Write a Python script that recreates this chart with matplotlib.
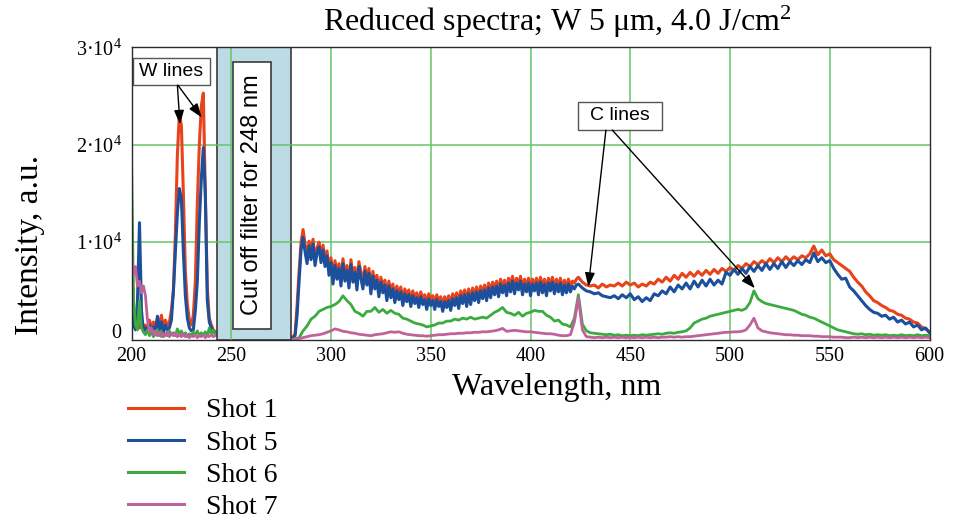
import numpy as np
import matplotlib
matplotlib.use('Agg')
import matplotlib.pyplot as plt
from matplotlib.patches import Rectangle
from matplotlib.lines import Line2D

plt.rcParams['font.family'] = ['Liberation Serif', 'DejaVu Serif']
plt.rcParams['mathtext.fontset'] = 'custom'
plt.rcParams['mathtext.rm'] = 'Liberation Serif'
plt.rcParams['mathtext.it'] = 'Liberation Serif:italic'
plt.rcParams['mathtext.bf'] = 'Liberation Serif:bold'

# ---------------- data ----------------
labels = ['Shot 1', 'Shot 5', 'Shot 6', 'Shot 7']
colors = ['#e8431a', '#1c4f9c', '#3bab3f', '#c0629a']

# W-line region (1 nm step, 200..242 nm)
wl_w = np.arange(200, 243, 1)
shot1_w = [12000, 2500, 1500, 2000, 1200, 1800, 1000, 1500, 900, 2000,
           1200, 1800, 1000, 2200, 1500, 2500, 1200, 2000, 1500, 1800,
           3000, 5000, 11000, 19000, 23200, 22000, 15000, 7000, 3600, 2000,
           1500, 2500, 6000, 14000, 20000, 24000, 25300, 15000, 5300, 2200,
           1500, 1000, 800]
shot5_w = [7400, 1500, 1000, 4000, 12000, 3000, 800, 1200, 800, 1500,
           1000, 1300, 800, 2400, 1000, 1800, 700, 1500, 1000, 1200,
           2000, 5000, 9000, 13000, 15500, 14500, 9000, 4500, 2200, 1200,
           900, 1000, 3000, 6000, 12000, 16500, 19700, 15000, 4000, 1800,
           1200, 900, 600]
shot6_w = [18700, 4000, 1500, 1000, 4000, 1200, 800, 500, 1000, 400,
           800, 300, 600, 1000, 400, 800, 300, 600, 400, 900,
           500, 700, 400, 1100, 600, 900, 400, 700, 300, 600,
           400, 800, 500, 900, 400, 700, 500, 800, 400, 1200,
           600, 1000, 500]
shot7_w = [9100, 6700, 7500, 5500, 6000, 4800, 5500, 4500, 2000, 800,
           1200, 500, 900, 400, 700, 300, 600, 400, 800, 300,
           600, 400, 700, 300, 500, 300, 600, 300, 500, 200,
           400, 300, 500, 200, 400, 300, 500, 200, 400, 300,
           500, 300, 400]

# Shots 1 and 5: noisy part at 1 nm (280..423), rest at 2 nm (424..600)
wl_n = np.arange(280, 424, 1)
wl_s = np.arange(424, 601, 2)
shot1_n = [100, 300, 600, 3500, 7000, 10000, 11300, 9800, 8500, 10100,
           8800, 10300, 8200, 9400, 10000, 8500, 9700, 8100, 9100, 7200,
           8400, 6300, 8100, 6800, 7800, 6100, 8300, 6600, 7600, 5900,
           8200, 6500, 7400, 5700, 8000, 6900, 5800, 7500, 6200, 7300,
           5300, 7000, 5800, 6600, 5000, 6400, 5400, 6100, 4600, 6000,
           4900, 5700, 4400, 5500, 4700, 5400, 4100, 5200, 4500, 5100,
           4000, 5000, 4300, 4800, 3900, 4900, 4200, 4600, 3700, 4700,
           4100, 4500, 3700, 4600, 4000, 4400, 3500, 4400, 3900, 4500,
           3600, 4700, 4100, 4800, 3800, 5000, 4300, 5100, 4000, 5200,
           4200, 5300, 4600, 5400, 4400, 5500, 4800, 5600, 4600, 5800,
           4900, 5900, 5200, 6000, 5000, 6200, 5400, 6100, 5100, 6300,
           5500, 6500, 5300, 6300, 5700, 6500, 5200, 6200, 5500, 6300,
           5100, 6200, 5600, 6300, 5200, 6400, 5400, 6200, 5100, 6300,
           5600, 6400, 5300, 6200, 5500, 6300, 5200, 6100, 5400, 6200,
           5500, 6000, 5800, 6200]
shot1_s = [6400, 5900, 5600, 5500, 5600, 5300, 5700, 5400,
           5600, 5500, 5800, 5500, 5900, 5600, 5800, 5400, 5700, 5500,
           5900, 5700, 6200, 5900, 6400, 6000, 6600, 6200, 6800, 6400,
           6900, 6500, 7000, 6600, 7100, 6700, 7200, 6800, 7300, 7000,
           7400, 7100, 7600, 7300, 7800, 7500, 8000, 7700, 8100, 7800,
           8300, 7900, 8400, 8000, 8500, 8100, 8500, 8200, 8600, 8400,
           8800, 9600, 8700, 9200, 8600, 8800, 8200, 7900, 7600, 7300,
           7000, 6400, 5900, 5500, 4900, 4500, 4000, 3800, 3500, 3300,
           3000, 2900, 2600, 2500, 2200, 2100, 1800, 1700, 1300, 1100,
           800]
shot5_n = [100, 200, 400, 2500, 6000, 9200, 10500, 9000, 7800, 9600,
           8200, 9800, 7600, 8900, 9500, 7900, 9200, 7500, 8600, 6600,
           7900, 5700, 7600, 6200, 7300, 5500, 7800, 6000, 7100, 5300,
           7700, 5900, 6900, 5100, 7500, 6300, 5200, 7000, 5600, 6800,
           4700, 6500, 5200, 6100, 4400, 5900, 4800, 5600, 4000, 5500,
           4300, 5200, 3800, 5000, 4100, 4900, 3500, 4700, 3900, 4600,
           3400, 4500, 3700, 4300, 3300, 4400, 3600, 4100, 3100, 4200,
           3500, 4000, 3100, 4100, 3400, 3900, 2900, 3900, 3300, 4000,
           3000, 4200, 3500, 4300, 3200, 4500, 3700, 4600, 3400, 4700,
           3600, 4800, 4000, 4900, 3800, 5000, 4200, 5100, 4000, 5300,
           4300, 5400, 4600, 5500, 4400, 5700, 4800, 5600, 4500, 5800,
           4900, 6000, 4700, 5800, 5100, 6000, 4600, 5700, 4900, 5800,
           4500, 5700, 5000, 5800, 4600, 5900, 4800, 5700, 4500, 5800,
           5000, 5900, 4700, 5700, 4900, 5800, 4600, 5600, 4800, 5700,
           4900, 5500, 5200, 5600]
shot5_s = [5700, 5300, 5000, 4900, 4700, 4800, 4500, 4400,
           4300, 4500, 4200, 4600, 4300, 4700, 4100, 4400, 3900, 4300,
           4000, 4700, 4500, 5000, 4700, 5400, 4900, 5600, 5200, 5800,
           5200, 6000, 5400, 6100, 5500, 6200, 5600, 6100, 5700, 6900,
           6600, 7200, 6700, 7300, 6800, 7500, 7000, 7600, 7100, 7800,
           7200, 7800, 7300, 8000, 7400, 8000, 7600, 8100, 7700, 8200,
           7900, 8900, 8000, 8400, 7900, 8100, 7300, 6700, 6200, 6300,
           5400, 5000, 4500, 4000, 3500, 3100, 2800, 2700, 2400, 2500,
           2100, 2300, 1800, 2000, 1600, 1800, 1300, 1500, 1000, 1200,
           700]

# Shots 6 and 7: 2 nm step, 280..600 nm
wl_c = np.arange(280, 601, 2)
shot6_c = [0, 50, 200, 900, 1400, 2100, 2400, 2900, 3100, 3300,
           3400, 3600, 3900, 4500, 4000, 3600, 2900, 2700, 2400, 2900,
           2900, 3300, 2800, 3100, 2700, 3000, 2700, 2600, 2200, 2100,
           1900, 1700, 1600, 1500, 1300, 1400, 1500, 1700, 1700, 1900,
           1900, 2100, 2000, 2200, 2100, 2300, 2100, 2200, 2300, 2200,
           2500, 2800, 3000, 3300, 2800, 2700, 2500, 2800, 2400, 2700,
           2800, 3000, 2900, 2900, 2500, 2300, 1900, 2000, 1600, 1500,
           1300, 2200, 4600, 1600, 900, 700, 650, 600, 550, 500,
           550, 450, 500, 400, 450, 400, 450, 400, 500, 450,
           500, 550, 600, 550, 650, 700, 650, 750, 800, 900,
           1200, 1700, 1900, 2100, 2200, 2400, 2500, 2600, 2700, 2800,
           2900, 3000, 3100, 3000, 3200, 3800, 5000, 4200, 3900, 3700,
           3600, 3500, 3400, 3300, 3200, 3100, 3000, 2800, 2600, 2500,
           2300, 2200, 2000, 1800, 1600, 1400, 1200, 1000, 900, 800,
           700, 600, 550, 600, 500, 550, 450, 500, 450, 500,
           400, 450, 400, 500, 400, 450, 400, 500, 400, 450,
           400]
shot7_c = [0, 50, 100, 200, 300, 400, 450, 500, 600, 750,
           900, 1100, 1000, 850, 800, 700, 650, 550, 500, 450,
           400, 500, 550, 600, 700, 800, 750, 800, 650, 550,
           500, 450, 400, 400, 350, 400, 450, 500, 500, 550,
           600, 600, 650, 650, 700, 700, 750, 750, 800, 800,
           850, 900, 1000, 1150, 850, 900, 950, 900, 850, 800,
           800, 750, 700, 650, 600, 600, 550, 450, 400, 400,
           500, 1800, 4300, 1000, 300, 250, 200, 250, 200, 250,
           200, 250, 200, 250, 200, 250, 200, 250, 200, 250,
           200, 250, 200, 250, 250, 300, 250, 300, 250, 300,
           300, 350, 400, 450, 500, 550, 600, 650, 700, 750,
           750, 800, 800, 850, 1000, 1500, 2200, 1200, 900, 800,
           700, 650, 600, 550, 500, 500, 450, 450, 400, 400,
           400, 350, 350, 300, 300, 300, 250, 250, 250, 200,
           200, 250, 200, 250, 200, 250, 200, 250, 200, 250,
           200, 250, 200, 250, 200, 250, 200, 250, 200, 250,
           200]

x_ticks = [200, 250, 300, 350, 400, 450, 500, 550, 600]
y_ticks = [0, 10000, 20000, 30000]
y_ticklabels = ['', '1\u00b7$10^{4}$', '2\u00b7$10^{4}$', '3\u00b7$10^{4}$']

# ---------------- figure ----------------
fig = plt.figure(figsize=(9.55, 5.22), dpi=100)
ax = fig.add_axes([131.5 / 955, 1 - 339.6 / 522, 798 / 955, 292.3 / 522])
ax.set_xlim(200, 600)
ax.set_ylim(0, 30000)

gc = '#66c566'
for xv in x_ticks[1:-1]:
    ax.axvline(xv, color=gc, lw=1.1, zorder=1)
for yv in y_ticks[1:-1]:
    ax.axhline(yv, color=gc, lw=1.1, zorder=1)

wl_rb = np.concatenate([wl_n, wl_s])
series_w = [shot1_w, shot5_w, shot6_w, shot7_w]
series_x = [wl_rb, wl_rb, wl_c, wl_c]
series_y = [shot1_n + shot1_s, shot5_n + shot5_s, shot6_c, shot7_c]
widths = [2.2, 2.2, 2.0, 2.0]
handles = []
for sw, xs, ys, c, lab, lw in zip(series_w, series_x, series_y, colors, labels, widths):
    ax.plot(wl_w, sw, color=c, lw=lw, zorder=2)
    ax.plot(xs, ys, color=c, lw=lw, zorder=2)
    handles.append(Line2D([], [], color=c, lw=2.2, label=lab))

# cut-off filter region
f0, f1 = 242.9, 280.0
ax.add_patch(Rectangle((f0, 0), f1 - f0, 30000, fc='#bddbe5', ec='#3a3a3a',
                       lw=1.2, zorder=3))
for yv in y_ticks[1:-1]:
    ax.plot([f0, f1], [yv, yv], color=gc, lw=1.1, zorder=3.5)
ax.axvline(250, color=gc, lw=1.1, zorder=3.5)
ax.add_patch(Rectangle((250.9, 1090), 19.0, 27400, fc='white', ec='#3a3a3a',
                       lw=1.2, zorder=4))
ax.text(260.3, 14890, 'Cut off filter for 248 nm', rotation=90, ha='center',
        va='center', family='Liberation Sans', fontsize=17, zorder=5)

# annotations
arrow_kw = dict(arrowstyle='-|>,head_length=0.7,head_width=0.25', color='black',
                lw=1.0, shrinkA=0, shrinkB=0, mutation_scale=12)
ax.add_patch(Rectangle((200.75, 26130), 38.6, 2770, fc='white', ec='#555555',
                       lw=1.0, zorder=6))
ax.text(220.05, 27515, 'W lines', ha='center', va='center',
        family='Liberation Sans', fontsize=14, zorder=7)
ax.annotate('', xy=(224.3, 22100), xytext=(223.0, 26100), arrowprops=arrow_kw, zorder=7)
ax.annotate('', xy=(235.2, 22800), xytext=(223.3, 26100), arrowprops=arrow_kw, zorder=7)

ax.add_patch(Rectangle((423.8, 21540), 42.1, 2830, fc='white', ec='#555555',
                       lw=1.0, zorder=6))
ax.text(444.85, 22955, 'C lines', ha='center', va='center',
        family='Liberation Sans', fontsize=14, zorder=7)
ax.annotate('', xy=(429.0, 5430), xytext=(437.8, 21500), arrowprops=arrow_kw, zorder=7)
ax.annotate('', xy=(512.5, 5270), xytext=(441.0, 21500), arrowprops=arrow_kw, zorder=7)

# axes styling
for s in ax.spines.values():
    s.set_color('#2a2a2a')
    s.set_linewidth(1.0)
    s.set_zorder(8)
ax.set_xticks(x_ticks)
ax.set_xticklabels([str(v) for v in x_ticks])
ax.set_yticks(y_ticks)
ax.set_yticklabels(y_ticklabels)
ax.tick_params(length=0, labelsize=14.5, pad=5)
ax.tick_params(axis='y', pad=7)
fig.text(116 / 955, 1 - 334 / 522, '0', ha='center', va='center', fontsize=14.5)

fig.text(557 / 955, 1 - 22 / 522, 'Reduced spectra; W 5 \u03bcm, 4.0 J/cm$^{2}$',
         ha='center', va='center', fontsize=23)
fig.text(557 / 955, 1 - 388 / 522, 'Wavelength, nm', ha='center', va='center',
         fontsize=23)
fig.text(30 / 955, 1 - 245 / 522, 'Intensity, a.u.', ha='center', va='center',
         rotation=90, fontsize=24)

fig.legend(handles=handles, loc='upper left', bbox_to_anchor=(128 / 955, 1 - 398 / 522),
           frameon=False, fontsize=20, handlelength=2.0, handletextpad=0.8,
           labelspacing=0.24, borderpad=0, borderaxespad=0)

fig.savefig('out.png', dpi=100)
